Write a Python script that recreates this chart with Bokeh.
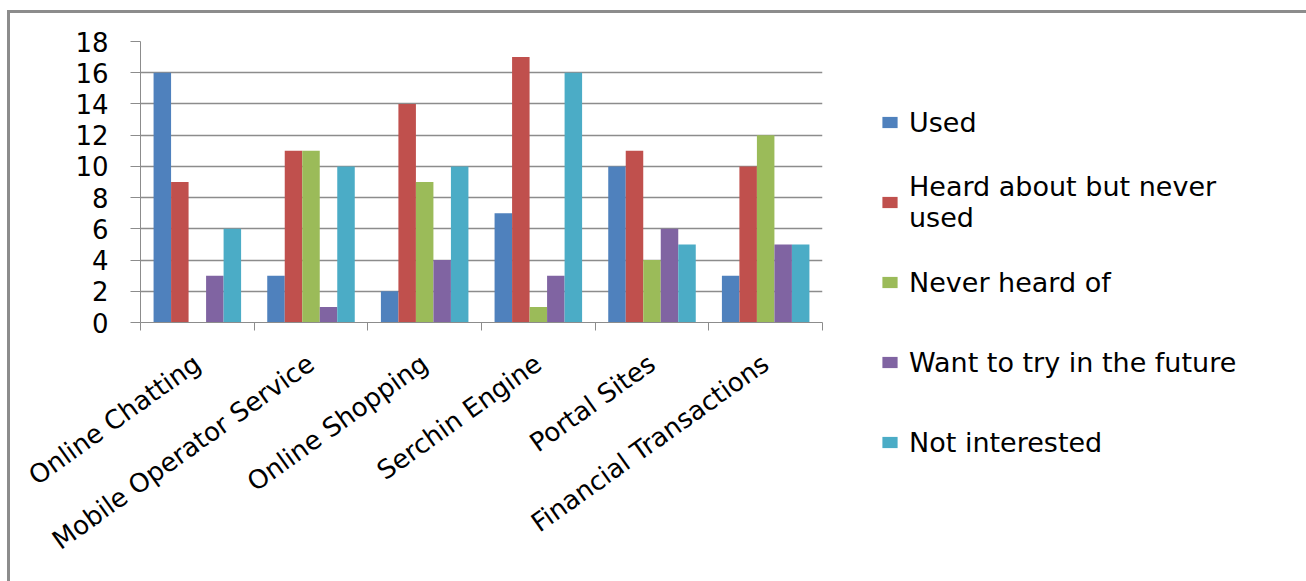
from bokeh.plotting import figure
from bokeh.models import (ColumnDataSource, Range1d, LinearAxis, FixedTicker, Legend, LegendItem)
from bokeh.transform import dodge
from bokeh.embed import file_html
from bokeh.resources import INLINE

categories = ["Online Chatting", "Mobile Operator Service", "Online Shopping",
              "Serchin Engine", "Portal Sites", "Financial Transactions"]
series_names = ["Used", "Heard about but never\nused", "Never heard of",
                "Want to try in the future", "Not interested"]
used = [16, 3, 2, 7, 10, 3]
heard = [9, 11, 14, 17, 11, 10]
never = [0, 11, 9, 1, 4, 12]
want = [3, 1, 4, 3, 6, 5]
not_interested = [6, 10, 10, 16, 5, 5]
y_ticks = [0, 2, 4, 6, 8, 10, 12, 14, 16, 18]

colors = ["#4F81BD", "#C0504D", "#9BBB59", "#8064A2", "#4BACC6"]
cols = ["used", "heard", "never", "want", "not_interested"]

n = len(categories)
centers = [i + 0.5 for i in range(n)]
bounds = list(range(n + 1))
src = ColumnDataSource(dict(xc=centers, cat=categories, used=used, heard=heard, never=never,
                            want=want, not_interested=not_interested))

GRAY = "#8c8c8c"
FONT = "DejaVu Sans"

p = figure(x_range=Range1d(0, n), y_range=Range1d(0, 18),
           frame_width=682, frame_height=281,
           min_border_left=130, min_border_right=481, min_border_top=28, min_border_bottom=259,
           x_axis_location=None, output_backend="svg", toolbar_location=None,
           margin=(10, 0, 0, 7))
p.styles = {"border-left": "3px solid " + GRAY, "border-top": "3px solid " + GRAY,
            "border-right": "3px solid " + GRAY}
p.outline_line_color = None
p.background_fill_color = "white"
p.border_fill_color = "white"

bw = 0.154
offsets = [-2 * bw, -bw, 0, bw, 2 * bw]
renderers = []
for col, off, c in zip(cols, offsets, colors):
    r = p.vbar(x=dodge("xc", off), top=col, width=bw, source=src,
               fill_color=c, line_color=None)
    renderers.append(r)

# y axis
ya = p.yaxis[0]
ya.ticker = FixedTicker(ticks=y_ticks)
ya.minor_tick_line_color = None
ya.major_tick_in = 0
ya.major_tick_out = 10
ya.major_tick_line_color = GRAY
ya.axis_line_color = GRAY
ya.major_label_standoff = 22
ya.major_label_text_font = FONT
ya.major_label_text_font_size = "26px"
ya.major_label_text_color = "black"
p.ygrid.ticker = FixedTicker(ticks=y_ticks)
p.ygrid.grid_line_color = GRAY
p.ygrid.grid_line_width = 1.3
p.xgrid.visible = False

# category axis: labels at centres, tick marks at category boundaries
cax = LinearAxis(ticker=FixedTicker(ticks=centers, minor_ticks=bounds),
                 major_label_overrides={c: lab for c, lab in zip(centers, categories)},
                 major_tick_line_color=None, major_tick_in=0, major_tick_out=8,
                 minor_tick_line_color=GRAY, minor_tick_in=0, minor_tick_out=8,
                 axis_line_color=GRAY,
                 major_label_orientation=0.62, major_label_standoff=30,
                 major_label_text_font=FONT, major_label_text_font_size="26px",
                 major_label_text_color="black")
p.add_layout(cax, "below")

legend = Legend(items=[LegendItem(label=nm, renderers=[r]) for nm, r in zip(series_names, renderers)],
                location=(58, -152), padding=0, margin=0, border_line_color=None,
                background_fill_alpha=0, label_text_font=FONT, label_text_font_size="27px",
                label_text_line_height=1.2,
                label_text_color="black", glyph_width=19, glyph_height=14, label_standoff=10,
                spacing=16, label_height=64)
p.add_layout(legend, "right")

open("out.html", "w").write(file_html(p, INLINE))
